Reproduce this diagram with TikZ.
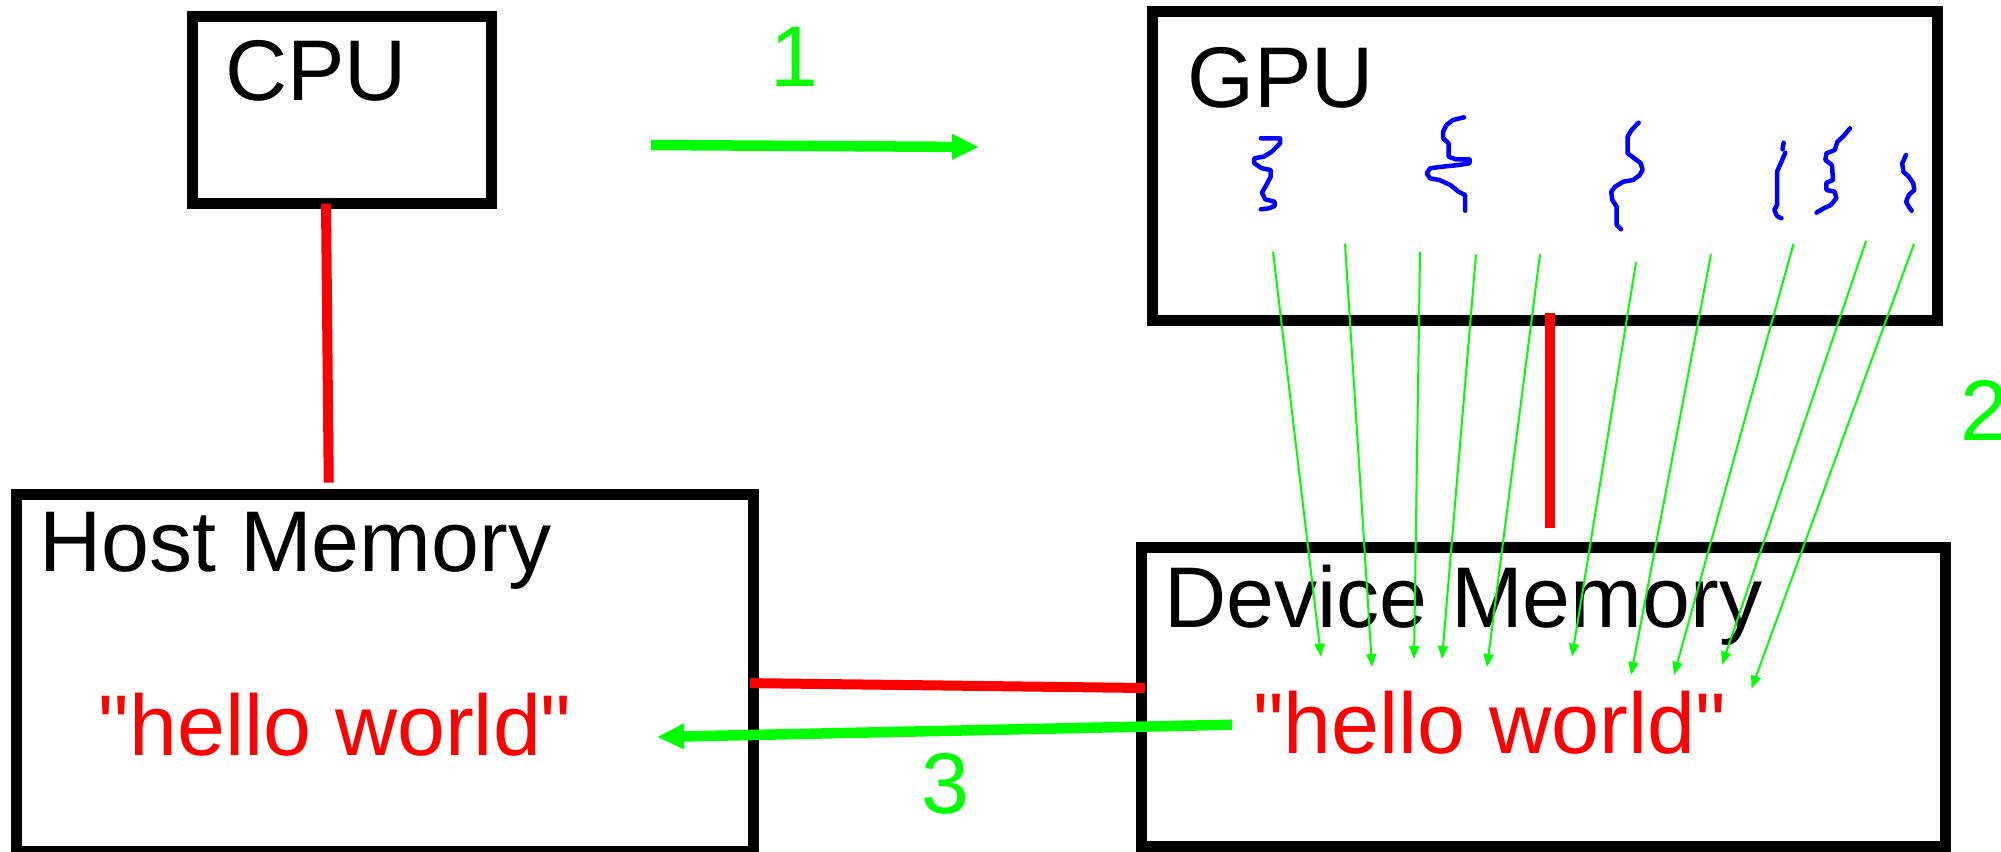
\documentclass[tikz,border=0pt]{standalone}
\usepackage{fontspec}
\setmainfont{Liberation Sans}[Ligatures=TeXOff]
\usepackage{xcolor}
\usepackage{tikz}
\usetikzlibrary{arrows.meta, positioning}

\definecolor{wirered}{RGB}{255,0,0}
\definecolor{copygreen}{RGB}{0,255,0}
\definecolor{threadblue}{RGB}{0,0,255}

\begin{document}
\begin{tikzpicture}[x=0.01cm, y=-0.01cm, every node/.style={inner sep=0pt, outer sep=0pt}]
        % Define styles for boxes, texts and connectors
        \tikzstyle{box} = [rectangle, draw=black, line width=0.11cm]
        \tikzstyle{title} = [anchor=base west, font=\fontsize{24.5}{29}\selectfont]
        \tikzstyle{data} = [title, text=wirered]
        \tikzstyle{stepnum} = [title, text=copygreen]
        \tikzstyle{wire} = [wirered, line width=0.1cm]
        \tikzstyle{copyarrow} = [copygreen, line width=0.105cm, -{Triangle[length=0.27cm, width=0.24cm]}]
        \tikzstyle{access} = [copygreen, line width=0.02cm, -{Triangle[length=0.13cm, width=0.1cm]}]
        \tikzstyle{thread} = [threadblue, line width=0.045cm, line join=round, line cap=round]

        \useasboundingbox[fill=white] (0,0) rectangle (2001,851);

        % Boxes
        \node (cpu) [box, minimum width=2.99cm, minimum height=1.87cm] at (342,110) {};
        \node (gpu) [box, minimum width=7.845cm, minimum height=3.085cm] at (1545.25,165.75) {};
        \node (host) [box, minimum width=7.365cm, minimum height=3.568cm] at (384.75,673.1) {};
        \node (device) [box, minimum width=8.03cm, minimum height=2.983cm] at (1543.5,696.85) {};

        % Texts
        \node (cpulbl) [title] at (225,100) {CPU};
        \node (gpulbl) [title] at (1187,107) {GPU};
        \node (hostlbl) [title] at (39,571.7) {Host Memory};
        \node (devicelbl) [title] at (1164,627) {Device Memory};
        \node (hostdata) [data] at (98.7,755) {"hello world"};
        \node (devicedata) [data] at (1253,753) {"hello world"};
        \node (one) [stepnum] at (770.7,86.7) {1};
        \node (two) [stepnum] at (1960.5,440) {2};
        \node (three) [stepnum] at (921.3,813) {3};

        % Threads
        \draw [thread] (1260.8,138.3) -- (1280,138.3) -- (1280,143.3) -- (1271.8,151.7) -- (1263.6,156.7) -- (1254.2,158.3) -- (1254.2,163.3) -- (1261.9,168.3) -- (1270.7,170) -- (1270.7,176.7) -- (1266.3,185) -- (1261.9,192.7) -- (1265.2,199.3) -- (1274.5,201.7) -- (1274.5,206) -- (1269,208.3) -- (1260.8,209.3);
        \draw [thread] (1464,117.3) -- (1453,120) -- (1446.4,125) -- (1443.1,131.7) -- (1443.1,138.3) -- (1448.6,143.3) -- (1448.6,156.7) -- (1455.8,159.3) -- (1469.5,159.3) -- (1469.5,163.3) -- (1458.5,165) -- (1442,166.7) -- (1430,168.3) -- (1426.7,173.3) -- (1430,178.3) -- (1439.3,180) -- (1450.3,185) -- (1458.5,191.7) -- (1465.1,195) -- (1465.1,210.7);
        \draw [thread] (1638.6,122.7) -- (1631.5,130) -- (1627.6,136.7) -- (1627.6,153.3) -- (1634.2,158.3) -- (1640.8,163.3) -- (1642.5,170) -- (1639.7,175) -- (1633.1,180) -- (1623.3,181.7) -- (1615,186.7) -- (1611.2,191.7) -- (1612.3,200) -- (1616.7,206.7) -- (1616.7,225) -- (1621,229.3);
        \draw [thread] (1783.6,142.7) -- (1782.5,149.3);
        \draw [thread] (1785.3,152.7) -- (1781.4,161.7) -- (1777,171.7) -- (1777,205) -- (1774.3,210) -- (1777,216) -- (1781.4,218.3);
        \draw [thread] (1850,128.3) -- (1842.9,136.7) -- (1837.4,141.7) -- (1834.7,150) -- (1826.4,153.3) -- (1825.3,160) -- (1831.9,165) -- (1833,180) -- (1826.4,182.7) -- (1826.4,190) -- (1834.7,191.7) -- (1836.3,198.3) -- (1830.8,205) -- (1823.7,208.3) -- (1816.5,212.7);
        \draw [thread] (1906,155) -- (1902.2,163.3) -- (1903.3,171.7) -- (1908.8,176.7) -- (1913.2,183.3) -- (1914.3,190) -- (1908.8,195) -- (1906,201.7) -- (1908.8,206.7) -- (1911.6,210.7);

        % Wires
        \draw [wire] ([shift={(-16,0)}]cpu.south) -- ([shift={(-56,-12)}]host.north);
        \draw [wire] ([shift={(4.75,-7)}]gpu.south) -- ([shift={(6.5,-19.7)}]device.north);
        \draw [wire] ([shift={(-3,10)}]host.east) -- ([shift={(3,-8.85)}]device.west);

        % Copies
        \coordinate (sendstart) at (651,145);
        \coordinate (sendend) at (979,147);
        \draw [copyarrow] (sendstart) -- (sendend);
        \coordinate (backstart) at (1232,724.7);
        \coordinate (backend) at (657,737);
        \draw [copyarrow] (backstart) -- (backend);

        % Threads writing to device memory
        \foreach \i/\sx/\sy/\ex/\ey in {1/1273/251.7/1321/656.7, 2/1345/243.7/1372/667, 3/1420/251.7/1414/659, 4/1476/254.3/1442/659, 5/1540/254.3/1487/667, 6/1636/262.3/1572/656.7, 7/1711/254.3/1631/675, 8/1793.5/243.7/1674/675, 9/1866/241/1722/664.7, 10/1914/243.7/1751.5/688.7} {
            \coordinate (t\i) at (\sx,\sy);
            \coordinate (w\i) at (\ex,\ey);
            \draw [access] (t\i) -- (w\i);
        }
    \end{tikzpicture}
\end{document}
